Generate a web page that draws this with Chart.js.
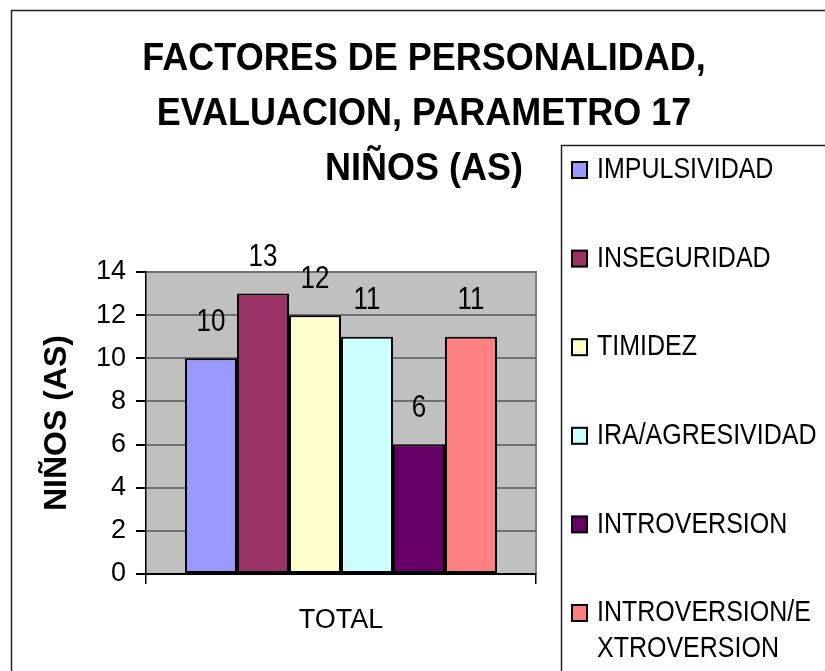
<!DOCTYPE html>
<html>
<head>
<meta charset="utf-8">
<script src="https://cdn.jsdelivr.net/npm/chart.js@4.4.1/dist/chart.umd.min.js"></script>
<style>
  html, body { margin: 0; padding: 0; background: #fff; overflow: hidden; }
  #wrap { width: 825px; height: 671px; }
  canvas { display: block; }
</style>
</head>
<body>
<div id="wrap"><canvas id="chart" width="825" height="671"></canvas></div>
<script>
// data
const categories = ["TOTAL"];
const seriesNames = ["IMPULSIVIDAD", "INSEGURIDAD", "TIMIDEZ", "IRA/AGRESIVIDAD", "INTROVERSION", "INTROVERSION/EXTROVERSION"];
const seriesValues = [10, 13, 12, 11, 6, 11];
const seriesColors = ["#9999FF", "#993366", "#FFFFCC", "#CCFFFF", "#660066", "#FF8080"];
const titleLines = ["FACTORES DE PERSONALIDAD,", "EVALUACION, PARAMETRO 17", "NIÑOS (AS)"];
const yTitle = "NIÑOS (AS)";
const yMin = 0, yMax = 14, yStep = 2;

const FONT = "'Liberation Sans', Arial, sans-serif";

// text drawn a little taller than wide, like the original
function stretchedText(ctx, text, x, y, sy) {
    ctx.save();
    ctx.translate(x, y);
    ctx.scale(1, sy);
    ctx.fillText(text, 0, 0);
    ctx.restore();
}

// break a label by characters when it runs past maxW
function wrapChars(ctx, text, maxW) {
    const lines = [];
    let cur = "";
    for (const ch of text) {
        if (cur && ctx.measureText(cur + ch).width > maxW) {
            lines.push(cur);
            cur = ch;
        } else {
            cur += ch;
        }
    }
    if (cur) lines.push(cur);
    return lines;
}

const framePlugin = {
    id: "frame",
    beforeDraw(chart) {
        const { ctx, chartArea: a } = chart;
        ctx.save();
        ctx.fillStyle = "#fff";
        ctx.fillRect(0, 0, chart.width, chart.height);
        ctx.fillStyle = "#C0C0C0";
        ctx.fillRect(a.left, a.top, a.right - a.left, a.bottom - a.top);
        ctx.strokeStyle = "#808080";
        ctx.lineWidth = 2;
        ctx.beginPath();
        ctx.moveTo(a.left, a.top);
        ctx.lineTo(a.right, a.top);
        ctx.lineTo(a.right, a.bottom);
        ctx.stroke();
        ctx.restore();
    },
    afterDraw(chart) {
        const { ctx } = chart;
        ctx.save();
        // keep the right edge clean
        ctx.fillStyle = "#fff";
        ctx.fillRect(chart.width - 4, 0, 4, chart.height);

        // outer chart border (only left/top are in the picture)
        ctx.strokeStyle = "#222";
        ctx.lineWidth = 1.5;
        ctx.beginPath();
        ctx.moveTo(11.5, chart.height + 5);
        ctx.lineTo(11.5, 10.5);
        ctx.lineTo(chart.width + 5, 10.5);
        ctx.stroke();

        // title
        ctx.fillStyle = "#000";
        ctx.textAlign = "center";
        ctx.textBaseline = "middle";
        ctx.font = "bold 36px " + FONT;
        titleLines.forEach((t, i) => stretchedText(ctx, t, 424, 59 + i * 55, 1.1));

        // legend box
        const lx = 561.5, ly = 145.5;
        ctx.beginPath();
        ctx.moveTo(lx, chart.height + 5);
        ctx.lineTo(lx, ly);
        ctx.lineTo(chart.width + 5, ly);
        ctx.stroke();

        ctx.font = "25px " + FONT;
        ctx.textAlign = "left";
        chart.data.datasets.forEach((ds, i) => {
            const cy = 170 + i * 88.6;
            ctx.fillStyle = ds.backgroundColor;
            ctx.fillRect(572, cy - 8, 15, 16);
            ctx.strokeStyle = "#000";
            ctx.lineWidth = 2;
            ctx.strokeRect(572, cy - 8, 15, 16);
            ctx.fillStyle = "#000";
            const lines = wrapChars(ctx, ds.label, chart.width - 597);
            lines.forEach((ln, k) => stretchedText(ctx, ln, 597, cy + k * 36, 1.18));
        });
        ctx.restore();
    },
    afterDatasetsDraw(chart) {
        const { ctx } = chart;
        ctx.save();
        ctx.fillStyle = "#000";
        ctx.font = "26px " + FONT;
        ctx.textAlign = "center";
        ctx.textBaseline = "middle";
        chart.data.datasets.forEach((ds, i) => {
            chart.getDatasetMeta(i).data.forEach((bar, j) => {
                stretchedText(ctx, String(ds.data[j]), bar.x, bar.y - 36, 1.18);
            });
        });
        ctx.restore();
    }
};

const datasets = seriesNames.map((name, i) => ({
    label: name,
    data: [seriesValues[i]],
    backgroundColor: seriesColors[i],
    borderColor: "#000",
    borderWidth: 2,
    borderSkipped: false
}));

new Chart(document.getElementById("chart"), {
    type: "bar",
    data: { labels: categories, datasets: datasets },
    options: {
        responsive: false,
        animation: false,
        events: [],
        categoryPercentage: 0.8,
        barPercentage: 1.0,
        layout: { padding: { left: 12, top: 272, right: 289, bottom: 0 } },
        plugins: {
            legend: { display: false },
            title: { display: false },
            tooltip: { enabled: false }
        },
        scales: {
            x: {
                afterFit: s => { s.height = 97; },
                grid: { drawOnChartArea: false, tickLength: 10, tickColor: "#000", lineWidth: 1.5 },
                border: { color: "#000", width: 2 },
                ticks: { color: "#000", padding: 20, font: { family: FONT, size: 27 } }
            },
            y: {
                min: yMin,
                max: yMax,
                afterFit: s => { s.width = 134; },
                grid: { color: "#707070", lineWidth: 2, tickLength: 10, tickColor: "#000" },
                border: { color: "#000", width: 1.5 },
                ticks: { stepSize: yStep, color: "#000", padding: 10, font: { family: FONT, size: 27 } },
                title: {
                    display: true,
                    text: yTitle,
                    color: "#000",
                    font: { family: FONT, size: 32, weight: "bold" },
                    padding: { top: 26, bottom: 0 }
                }
            }
        }
    },
    plugins: [framePlugin]
});
</script>
</body>
</html>
